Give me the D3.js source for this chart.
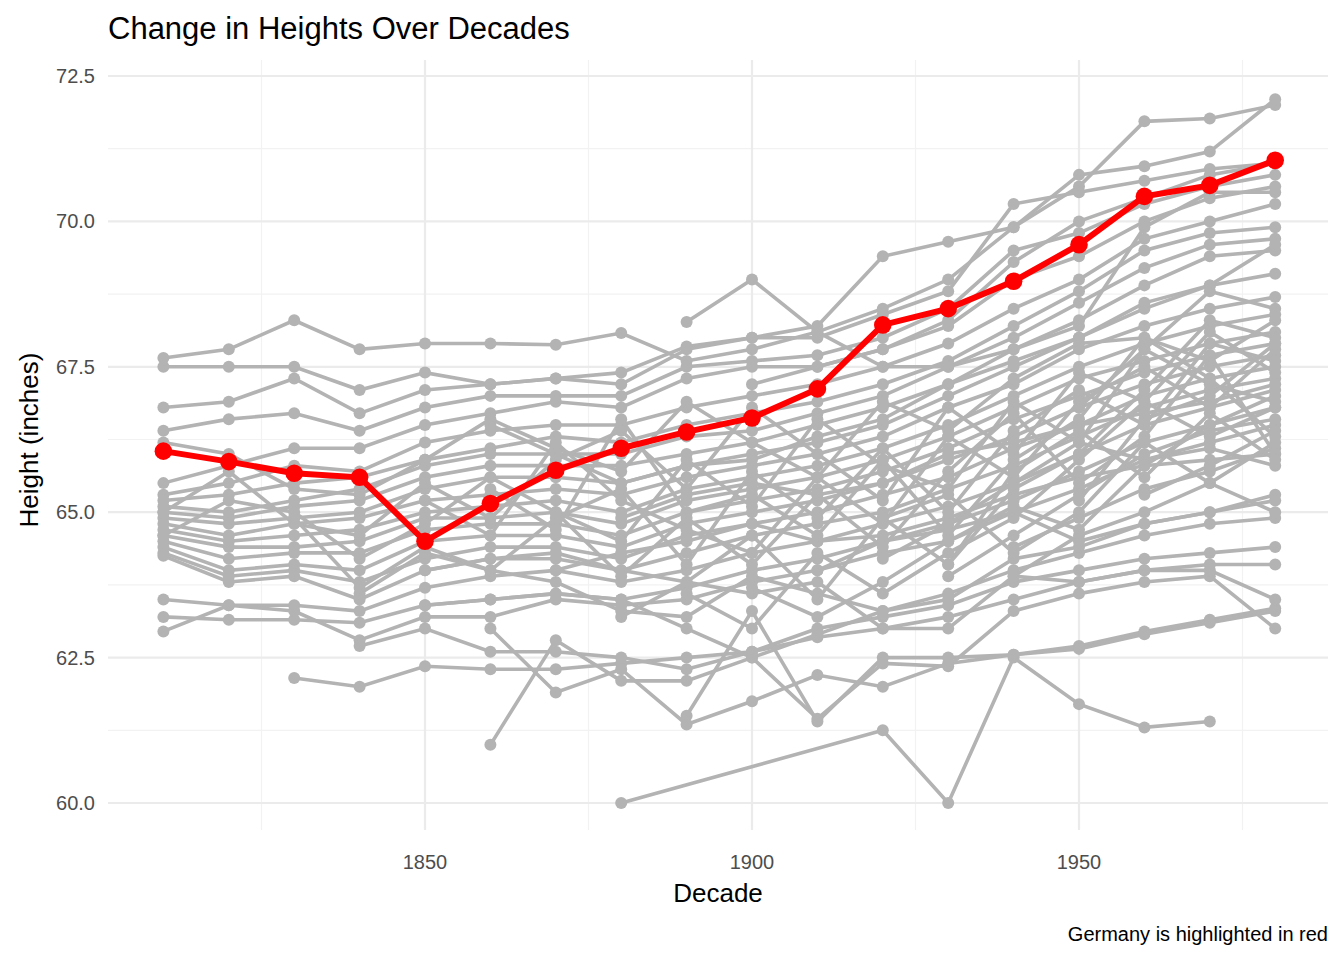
<!DOCTYPE html>
<html><head><meta charset="utf-8">
<script src="https://cdn.jsdelivr.net/npm/d3@7"></script>
<style>body{margin:0;background:#fff;font-family:"Liberation Sans",Arial,sans-serif}</style>
</head><body><svg id="c" width="1344" height="960"></svg>
<script>
// decades 1810..1980
var decades = d3.range(1810, 1981, 10);
var germany = [66.05,65.87,65.67,65.6,64.5,65.15,65.72,66.1,66.38,66.62,67.12,68.22,68.5,68.97,69.6,70.43,70.62,71.05];
var N = null;
// other countries
var others = [
  [67.65,67.8,68.3,67.8,67.9,67.9,67.88,68.08,67.6,67.8,68.1,68.5,69.0,69.9,70.6,71.72,71.77,72.0],
  [67.5,67.5,67.5,67.1,67.4,67.2,67.3,67.4,67.85,68.0,68.2,69.4,69.65,69.9,70.8,70.95,71.2,72.1],
  [66.8,66.9,67.3,66.7,67.1,67.2,67.3,67.2,67.8,68.0,68.0,68.4,68.8,70.3,70.5,70.7,70.9,71.0],
  [66.4,66.6,66.7,66.4,66.8,67.0,67.0,67.0,67.5,67.6,67.7,68.0,68.5,69.5,69.8,70.3,70.6,70.8],
  [65.5,65.8,66.1,66.1,66.5,66.7,66.9,66.8,67.3,67.5,67.5,67.8,68.2,69.0,69.4,70.0,70.4,70.6],
  [65.3,65.5,65.8,65.7,66.2,66.4,66.5,66.5,66.8,67.0,67.2,67.5,67.9,68.5,69.0,69.7,70.0,70.3],
  [65.2,65.3,65.5,65.6,65.9,66.1,66.3,66.2,66.5,66.7,66.9,67.2,67.6,68.2,68.8,69.5,69.8,69.9],
  [65.1,65.0,65.2,65.4,65.8,66.0,66.0,66.0,66.3,66.4,66.7,67.0,67.5,68.0,68.6,69.2,69.6,69.7],
  [65.0,64.9,65.1,65.2,65.6,65.8,65.8,65.8,66.0,66.2,66.5,66.8,67.2,67.8,68.3,68.9,69.4,69.5],
  [64.9,64.8,64.9,65.0,65.4,65.6,65.6,65.5,65.8,66.0,66.2,66.5,67.0,67.5,68.0,68.5,68.9,69.1],
  [64.8,64.6,64.8,64.9,65.2,65.3,65.4,65.3,65.6,65.8,66.0,66.3,66.8,67.2,67.8,68.2,68.5,68.7],
  [64.7,64.5,64.6,64.7,65.0,65.1,65.2,65.0,65.4,65.6,65.8,66.1,66.5,67.0,67.5,67.9,68.2,68.4],
  [64.6,64.4,64.4,64.5,64.9,64.9,65.0,64.8,65.2,65.4,65.6,65.9,66.3,66.8,67.3,67.6,67.9,68.1],
  [64.5,64.2,64.3,64.3,64.7,64.8,64.8,64.6,65.0,65.2,65.4,65.7,66.1,66.6,67.0,67.4,67.7,67.9],
  [64.4,64.0,64.1,64.0,64.5,64.6,64.6,64.4,64.8,65.0,65.2,65.5,65.9,66.3,66.8,67.2,67.5,67.7],
  [64.3,63.9,64.0,63.8,64.2,64.4,64.4,64.2,64.6,64.8,65.0,65.3,65.6,66.1,66.5,67.0,67.3,67.5],
  [64.25,63.8,63.9,63.5,64.0,64.2,64.2,64.0,64.3,64.6,64.8,65.0,65.4,65.8,66.3,66.8,67.1,67.3],
  [63.5,63.4,63.4,63.3,63.7,63.9,64.0,63.8,64.0,64.3,64.5,64.8,65.1,65.5,66.0,66.5,66.8,67.1],
  [63.2,63.15,63.15,63.1,63.4,63.5,63.6,63.5,63.7,64.0,64.2,64.5,64.8,65.2,65.7,66.2,66.5,66.8],
  [62.95,63.4,63.3,62.8,63.2,63.2,63.5,63.4,63.5,63.8,64.0,64.3,64.5,65.0,65.4,65.9,66.2,66.5],
  [N,N,62.15,62.0,62.35,62.3,62.3,62.4,62.5,62.6,62.85,63.0,63.2,63.5,63.8,64.0,64.1,64.1],
  [N,N,N,62.7,63.0,62.6,62.6,62.5,62.3,62.6,63.0,63.2,63.4,63.8,64.0,64.2,64.3,64.4],
  [N,N,N,N,N,61.0,62.8,62.1,62.1,62.5,62.9,63.3,63.6,64.0,64.3,64.6,64.8,64.9],
  [N,N,N,N,N,63.0,61.9,62.3,61.35,61.75,62.2,62.0,62.4,62.55,62.7,62.95,63.15,63.35],
  [N,N,N,N,N,N,N,60.0,N,N,N,61.25,60.0,62.5,61.7,61.3,61.4,N],
  [N,N,N,N,N,N,N,N,61.5,63.3,61.4,62.5,62.5,62.55,62.65,62.9,63.1,63.3],
  [N,N,N,N,63.4,63.5,63.6,63.5,63.0,62.5,61.45,62.4,62.35,63.3,63.6,63.8,63.9,63.0],
  [N,N,N,N,64.0,64.2,64.3,64.0,63.8,63.6,63.8,63.0,63.0,63.9,63.8,64.0,64.0,63.5],
  [N,N,N,63.6,64.3,64.0,63.8,63.3,63.2,63.9,63.6,63.3,63.5,64.2,64.4,64.8,65.0,65.2],
  [N,N,N,N,N,N,64.0,64.3,64.5,64.8,64.5,64.6,64.9,65.3,65.6,65.8,65.9,66.0],
  [N,N,N,N,N,N,N,64.9,65.3,65.5,65.3,65.5,66.0,66.2,66.5,66.7,66.9,67.2],
  [N,N,N,N,N,66.5,66.0,65.5,65.8,65.9,66.3,66.6,67.2,67.6,68.0,68.6,68.9,69.6],
  [N,N,N,N,N,N,N,N,68.27,69.0,68.1,67.5,67.5,67.8,68.2,69.9,70.5,70.5],
  [N,N,N,N,N,N,N,N,N,67.2,67.5,67.8,68.3,69.3,70.0,70.4,70.8,71.0],
  [N,N,N,N,N,N,N,N,N,N,64.0,64.5,64.7,65.0,64.5,64.8,65.0,65.3],
  [N,N,N,N,N,N,N,N,N,N,N,64.2,64.8,65.5,66.2,65.9,66.1,65.8],
  [N,N,N,N,N,N,N,N,N,N,N,N,63.9,64.6,65.3,66.0,66.4,66.6],
  [N,N,N,N,N,N,N,N,N,N,N,N,N,64.4,64.9,65.4,65.7,66.1],
  [66.2,66.0,65.4,65.3,65.9,66.6,66.1,65.7,66.9,66.2,65.6,66.9,66.4,67.3,67.9,68.0,67.6,68.3],
  [65.0,65.7,64.8,64.6,65.5,64.9,65.9,66.4,65.4,66.8,66.0,65.2,66.8,66.0,67.4,66.9,68.1,67.4],
  [64.6,65.2,65.0,64.2,64.8,65.6,65.0,64.5,65.9,65.1,66.6,65.8,65.4,66.9,66.2,67.8,67.2,66.9],
  [N,N,64.9,63.7,64.4,64.0,64.9,65.4,64.1,65.7,64.9,66.1,65.0,66.4,67.1,66.5,67.9,67.6],
  [N,N,N,N,65.2,64.6,66.2,65.2,64.7,64.3,65.6,64.8,66.3,65.6,66.9,67.5,66.8,67.8],
  [N,N,N,N,N,65.4,64.7,66.6,65.0,65.3,64.6,65.9,64.6,65.9,66.6,68.0,67.3,66.3],
  [N,N,N,N,N,N,65.0,63.9,64.9,64.1,65.3,64.4,65.7,66.7,65.5,66.3,67.7,66.0],
  [N,N,N,N,N,N,N,63.2,63.8,64.6,63.5,64.9,64.1,65.7,66.4,65.6,66.7,65.9],
  [N,N,N,N,N,N,N,N,63.6,63.0,64.3,63.6,64.3,64.9,65.9,66.9,66.3,66.8],
  [N,N,N,N,N,N,N,N,N,63.7,63.2,63.8,64.5,65.1,64.7,65.8,66.5,67.0],
  [N,N,N,N,N,N,N,N,N,N,N,64.9,65.3,64.3,65.0,66.2,65.5,66.2],
  [N,N,N,N,N,N,N,N,N,N,N,N,64.1,65.4,66.0,67.1,68.3,68.0],
  [N,N,N,N,N,N,N,N,N,N,N,N,N,63.9,64.6,65.0,65.5,65.0],
  [N,N,N,N,N,N,N,N,N,N,N,N,N,N,66.8,67.8,68.8,68.5],
  [N,N,N,N,N,N,N,N,N,N,N,N,N,N,65.2,66.6,67.0,67.9],
  [N,N,N,N,N,N,N,N,N,N,N,N,N,N,N,65.3,65.8,66.4]
];
var xTicks = [1850,1900,1950];
var yTicks = [60,62.5,65,67.5,70,72.5];

var svg = d3.select("#c");
var x = d3.scaleLinear().domain([1850,1950]).range([425,1079]);
var y = d3.scaleLinear().domain([60,72.5]).range([803,76]);
var L = 108, R = 1328, T = 60, B = 830;

// grid
[1825,1875,1925,1975].forEach(function(v){ svg.append("line").attr("x1",x(v)).attr("x2",x(v)).attr("y1",T).attr("y2",B).attr("stroke","#f2f2f2").attr("stroke-width",1.2); });
[61.25,63.75,66.25,68.75,71.25].forEach(function(v){ svg.append("line").attr("x1",L).attr("x2",R).attr("y1",y(v)).attr("y2",y(v)).attr("stroke","#f2f2f2").attr("stroke-width",1.2); });
xTicks.forEach(function(v){ svg.append("line").attr("x1",x(v)).attr("x2",x(v)).attr("y1",T).attr("y2",B).attr("stroke","#ebebeb").attr("stroke-width",2.2); });
yTicks.forEach(function(v){ svg.append("line").attr("x1",L).attr("x2",R).attr("y1",y(v)).attr("y2",y(v)).attr("stroke","#ebebeb").attr("stroke-width",2.2); });

var line = d3.line().x(function(d){return x(d[0]);}).y(function(d){return y(d[1]);});
function pairs(arr){ return decades.map(function(d,i){return [d,arr[i]];}).filter(function(d){return d[1]!=null;}); }

others.forEach(function(s){
  var p = pairs(s);
  svg.append("path").attr("d",line(p)).attr("fill","none").attr("stroke","#b3b3b3").attr("stroke-width",3.6);
  svg.selectAll(null).data(p).enter().append("circle")
    .attr("cx",function(d){return x(d[0]);}).attr("cy",function(d){return y(d[1]);}).attr("r",6).attr("fill","#b3b3b3");
});
var g = pairs(germany);
svg.append("path").attr("d",line(g)).attr("fill","none").attr("stroke","#ff0000").attr("stroke-width",6);
svg.selectAll(null).data(g).enter().append("circle").attr("cx",function(d){return x(d[0]);}).attr("cy",function(d){return y(d[1]);}).attr("r",8.8).attr("fill","#ff0000");

// axes labels
xTicks.forEach(function(v){ svg.append("text").attr("x",x(v)).attr("y",869).attr("text-anchor","middle").attr("font-size",20).attr("fill","#4d4d4d").text(v); });
yTicks.forEach(function(v){ svg.append("text").attr("x",95).attr("y",y(v)+7).attr("text-anchor","end").attr("font-size",20).attr("fill","#4d4d4d").text(v.toFixed(1)); });
svg.append("text").attr("x",718).attr("y",902).attr("text-anchor","middle").attr("font-size",26).text("Decade");
svg.append("text").attr("transform","translate(38,440) rotate(-90)").attr("text-anchor","middle").attr("font-size",26).text("Height (inches)");
svg.append("text").attr("x",108).attr("y",39).attr("font-size",31).text("Change in Heights Over Decades");
svg.append("text").attr("x",1328).attr("y",941).attr("text-anchor","end").attr("font-size",20).text("Germany is highlighted in red");
</script></body></html>
